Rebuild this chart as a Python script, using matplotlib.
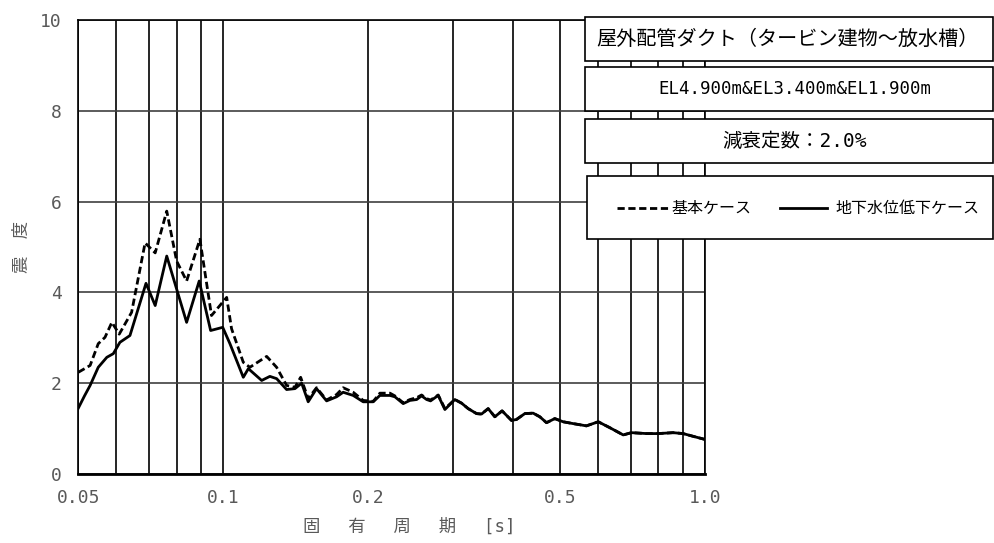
import matplotlib
matplotlib.use("Agg")
import matplotlib.pyplot as plt
from matplotlib.patches import Rectangle
from matplotlib.lines import Line2D

# 固有周期 [s] と 震度
period_low = [0.050, 0.0515, 0.0529, 0.0550, 0.0573, 0.0591, 0.0610, 0.0640, 0.0691, 0.0722,
              0.0763, 0.0839, 0.0891, 0.0941, 0.0997, 0.1032, 0.1100, 0.1127, 0.1201, 0.1249,
              0.1290, 0.1353, 0.1408, 0.1454, 0.1500, 0.1561, 0.1638, 0.1718, 0.1773, 0.1860,
              0.1951, 0.2047, 0.2113, 0.2217, 0.2270, 0.2362, 0.2439, 0.2519, 0.2579, 0.2642,
              0.2692, 0.2792, 0.2883, 0.3023, 0.3122, 0.3222, 0.3354, 0.3434, 0.3545, 0.3660,
              0.3789, 0.3963, 0.4058, 0.4224, 0.4395, 0.4538, 0.4685, 0.4875, 0.5072, 0.532,
              0.567, 0.600, 0.634, 0.676, 0.703, 0.756, 0.799, 0.858, 0.900, 0.944, 1.0]
shindo_low = [1.45, 1.72, 1.95, 2.35, 2.57, 2.65, 2.90, 3.05, 4.20, 3.71,
              4.80, 3.34, 4.25, 3.16, 3.23, 2.87, 2.13, 2.32, 2.06, 2.15,
              2.10, 1.86, 1.88, 2.00, 1.59, 1.88, 1.61, 1.70, 1.80, 1.73,
              1.59, 1.59, 1.73, 1.73, 1.70, 1.55, 1.62, 1.64, 1.72, 1.64,
              1.61, 1.73, 1.42, 1.64, 1.56, 1.44, 1.33, 1.32, 1.44, 1.26,
              1.39, 1.18, 1.20, 1.33, 1.34, 1.26, 1.13, 1.22, 1.15, 1.11,
              1.06, 1.15, 1.02, 0.86, 0.91, 0.89, 0.89, 0.91, 0.89, 0.83, 0.76]

period_base = [0.050, 0.0529, 0.0550, 0.0568, 0.0587, 0.0608, 0.0645, 0.0688, 0.0722, 0.0763,
               0.0800, 0.0839, 0.0894, 0.0945, 0.1016, 0.1040, 0.1100, 0.1135, 0.1230, 0.1290,
               0.1353, 0.1408, 0.1447, 0.1500, 0.1561, 0.1638, 0.1718, 0.1773, 0.1860, 0.1951,
               0.2047, 0.2113, 0.2217, 0.2270, 0.2362, 0.2439, 0.2519, 0.2579, 0.2642, 0.2692,
               0.2792, 0.2883, 0.3023, 0.3122, 0.3222, 0.3354, 0.3434, 0.3545, 0.3660, 0.3789,
               0.3963, 0.4058, 0.4224, 0.4395, 0.4538, 0.4685, 0.4875, 0.5072, 0.532, 0.567,
               0.600, 0.634, 0.676, 0.703, 0.756, 0.799, 0.858, 0.900, 0.944, 1.0]
shindo_base = [2.24, 2.39, 2.87, 3.01, 3.34, 3.08, 3.56, 5.09, 4.87, 5.79,
               4.69, 4.25, 5.17, 3.49, 3.89, 3.20, 2.46, 2.35, 2.59, 2.35,
               1.95, 1.91, 2.13, 1.66, 1.90, 1.63, 1.75, 1.90, 1.80, 1.62,
               1.60, 1.78, 1.78, 1.72, 1.57, 1.64, 1.68, 1.74, 1.66, 1.63,
               1.74, 1.44, 1.64, 1.56, 1.44, 1.33, 1.32, 1.44, 1.26, 1.39,
               1.18, 1.20, 1.33, 1.34, 1.26, 1.13, 1.22, 1.15, 1.11, 1.06,
               1.15, 1.02, 0.86, 0.91, 0.89, 0.89, 0.91, 0.89, 0.83, 0.76]

xticks = [0.05, 0.1, 0.2, 0.5, 1.0]
xticklabels = ["0.05", "0.1", "0.2", "0.5", "1.0"]
xminor = [0.06, 0.07, 0.08, 0.09, 0.3, 0.4, 0.6, 0.7, 0.8, 0.9]
yticks = [0, 2, 4, 6, 8, 10]

title_text = "屋外配管ダクト（タービン建物～放水槽）"
level_text = "EL4.900m&EL3.400m&EL1.900m"
damp_text = "減衰定数：2.0%"
label_base = "基本ケース"
label_low = "地下水位低下ケース"
xlabel_text = "固　 有　 周　 期　 [s]"
ylabel_text = "震　度"

fonts = ["DejaVu Sans Mono", "Noto Sans CJK JP"]
plt.rcParams["font.family"] = fonts

fig = plt.figure(figsize=(9.95, 5.43), dpi=100)
ax = fig.add_axes([0.0787, 0.1271, 0.63, 0.8361])

dash = (2.6, 1.3)
ax.plot(period_base, shindo_base, color="black", lw=2.0, dashes=dash, zorder=3)
ax.plot(period_low, shindo_low, color="black", lw=2.0, zorder=4)

ax.set_xscale("log")
ax.set_xlim(0.05, 1.0)
ax.set_ylim(0, 10)
ax.set_xticks(xticks)
ax.set_xticklabels(xticklabels)
ax.set_xticks(xminor, minor=True)
ax.xaxis.set_minor_formatter(plt.NullFormatter())
ax.set_yticks(yticks)
ax.tick_params(which="both", length=0, labelsize=13, labelcolor="#595959")
ax.tick_params(axis="x", pad=11)
ax.tick_params(axis="y", pad=12)
ax.grid(axis="x", which="both", color="black", lw=1.2)
ax.grid(axis="y", which="major", color="#404040", lw=1.2)
for s in ax.spines.values():
    s.set_color("black")
    s.set_linewidth(1.2)
ax.spines["bottom"].set_linewidth(2.0)

xl = ax.set_xlabel(xlabel_text, fontsize=12.5, color="#595959")
xl.set_va("center")
ax.xaxis.set_label_coords(0.528, -0.117)
yl = ax.set_ylabel(ylabel_text, fontsize=12.5, color="#595959")
yl.set_va("center")
ax.yaxis.set_label_coords(-0.09, 0.5)

W, H = 995, 543


def box(x0, y0, x1, y1):
    r = Rectangle((x0 / W, 1 - y1 / H), (x1 - x0) / W, (y1 - y0) / H,
                  transform=fig.transFigure, facecolor="white", edgecolor="black",
                  lw=1.2, zorder=10)
    fig.add_artist(r)


box(585, 17, 993, 61)
box(585, 67, 993, 111)
box(585, 119, 993, 163)
box(587, 176, 993, 239)

fig.text(787 / W, 1 - 39 / H, title_text, ha="center", va="center", fontsize=14.5, zorder=11)
fig.text(795 / W, 1 - 89 / H, level_text, ha="center", va="center", fontsize=12.5, zorder=11)
fig.text(795 / W, 1 - 141 / H, damp_text, ha="center", va="center", fontsize=14, zorder=11)

fig.add_artist(Line2D([617 / W, 668 / W], [1 - 208 / H, 1 - 208 / H], transform=fig.transFigure,
                      color="black", lw=2.0, dashes=dash, zorder=11))
fig.text(671 / W, 1 - 208 / H, label_base, ha="left", va="center", fontsize=11.5, zorder=11)
fig.add_artist(Line2D([780 / W, 827 / W], [1 - 208 / H, 1 - 208 / H], transform=fig.transFigure,
                      color="black", lw=2.0, zorder=11))
fig.text(835 / W, 1 - 208 / H, label_low, ha="left", va="center", fontsize=11.5, zorder=11)

fig.savefig("out.png", dpi=100)
